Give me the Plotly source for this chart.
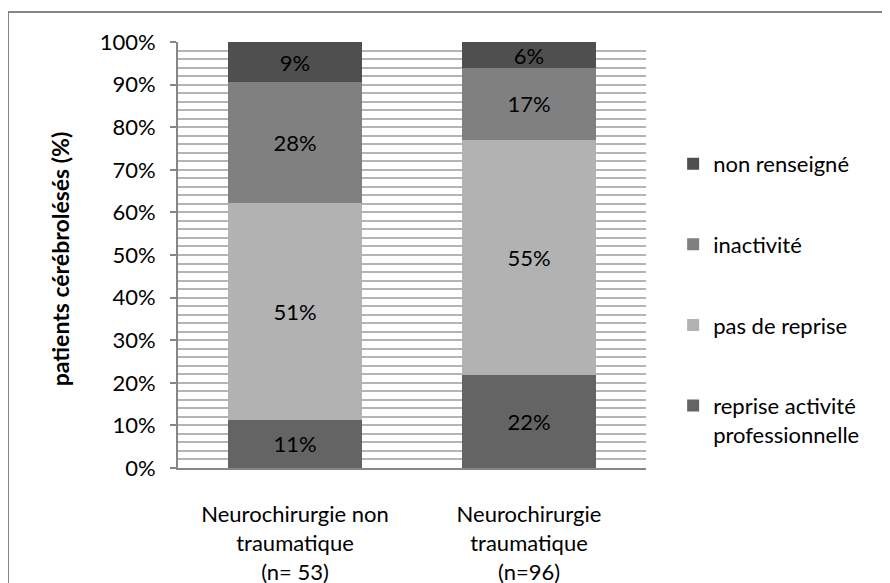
import plotly.graph_objects as go

categories = ["Neurochirurgie non<br>traumatique<br>(n= 53)", "Neurochirurgie<br>traumatique<br>(n=96)"]
series_names = ["reprise activité<br>professionnelle", "pas de reprise", "inactivité", "non renseigné"]
reprise = [11.3, 21.9]
pas_de_reprise = [50.9, 55.2]
inactivite = [28.3, 16.7]
non_renseigne = [9.4, 6.2]
colors = ["#646464", "#b2b2b2", "#808080", "#4f4f4f"]

FONT = "Lato"
FS = 22
fig = go.Figure()
for i, (name, vals) in enumerate(zip(series_names, [reprise, pas_de_reprise, inactivite, non_renseigne])):
    fig.add_trace(go.Bar(
        x=categories, y=vals, name=name, legendgroup=str(i), legendrank=4 - i,
        marker=dict(color=colors[i], line=dict(width=0)),
        texttemplate="%{y:.0f}%", textposition="inside", insidetextanchor="middle",
        textfont=dict(color="black", size=FS, family=FONT), constraintext="none",
    ))

# page body adds an 8px offset; plot area targets x 178-646, y 42-468 on screen
fig.update_layout(
    width=890, height=583,
    margin=dict(l=170, r=252, t=34, b=123, autoexpand=False),
    barmode="stack", bargap=0.43,
    plot_bgcolor="white", paper_bgcolor="white",
    font=dict(family=FONT, size=FS, color="black"),
    showlegend=True,
    legend=dict(x=1.058, y=0.763, xanchor="left", yanchor="top",
                traceorder="grouped", tracegroupgap=49, valign="top",
                font=dict(size=FS, family=FONT), itemwidth=30, bgcolor="rgba(0,0,0,0)"),
)
fig.update_yaxes(
    range=[0, 100], dtick=10, ticksuffix="%", showgrid=True, gridcolor="#b4b4b4", gridwidth=2,
    minor=dict(dtick=2, showgrid=True, gridcolor="#b4b4b4", gridwidth=2, ticks=""),
    ticks="outside", ticklen=6, tickcolor="#868686", tickwidth=2,
    showline=True, linecolor="#868686", linewidth=2,
    tickfont=dict(size=FS), zeroline=False, ticklabelstandoff=10, automargin=False,
)
fig.update_xaxes(
    showline=True, linecolor="#868686", linewidth=2, ticks="",
    tickfont=dict(size=FS), ticklabelstandoff=26, automargin=False,
)
fig.add_annotation(text="<b>patients cérébrolésés (%)</b>", textangle=-90,
                   xref="paper", yref="paper", x=(60 - 178) / 468, y=0.49,
                   xanchor="center", yanchor="middle", showarrow=False,
                   font=dict(size=23, family=FONT))
fig.add_shape(type="rect", xref="paper", yref="paper",
              x0=(8 - 178) / 468, x1=1.8, y0=-0.4, y1=(468 - 12) / 426,
              line=dict(color="#868686", width=2), fillcolor="rgba(0,0,0,0)", layer="below")

fig.write_html("out.html")
